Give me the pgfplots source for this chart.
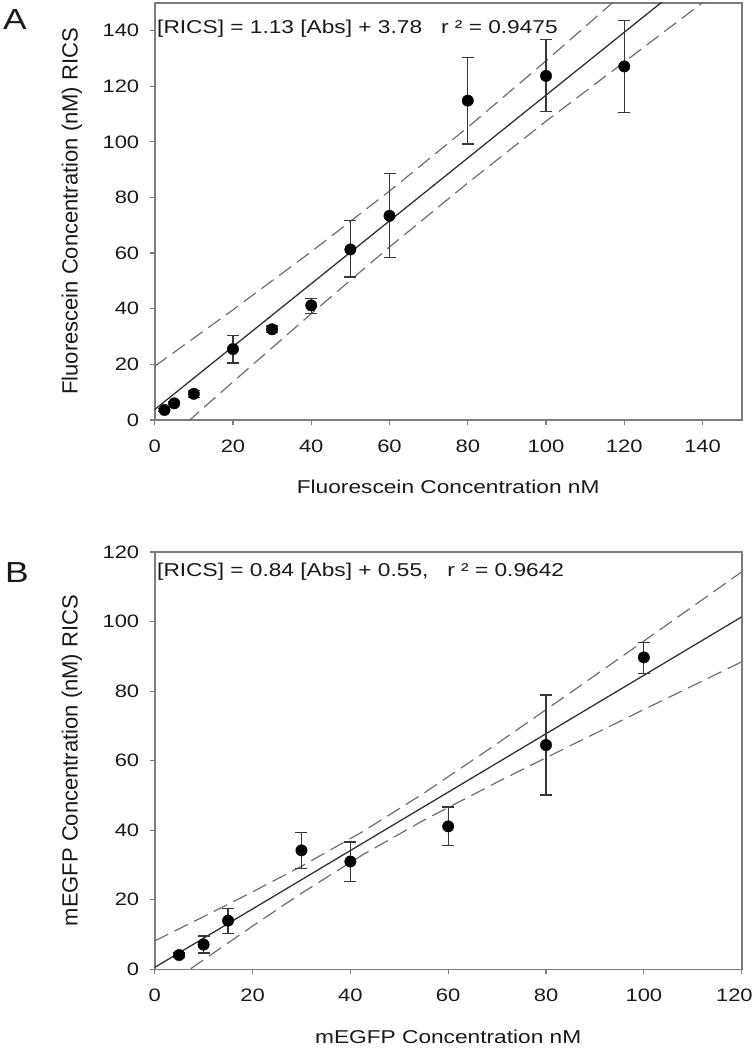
\documentclass[border=0pt]{standalone}
\usepackage{pgfplots}
\pgfplotsset{compat=1.18}
\usepackage{pgfplotstable}
\usepackage{fontspec}
\setmainfont{Liberation Sans}[FakeStretch=1.22]
\newfontfamily\ylabfont{Liberation Sans}
\definecolor{axgray}{RGB}{125,125,125}
\definecolor{fitgray}{RGB}{50,50,50}
\definecolor{bandgray}{RGB}{110,110,110}
\definecolor{errgray}{RGB}{55,55,55}
\definecolor{txt}{RGB}{25,25,25}

\pgfplotstableread{
x y ep em
2.5 3.6 0.5 0.5
5 6.0 0.5 0.5
10 9.4 1.2 1.2
20 25.5 4.9 5.0
30 32.6 1.2 1.2
40 41.2 2.6 2.8
50 61.3 10.3 9.9
60 73.4 15.2 15.1
80 114.8 15.6 15.6
100 123.7 13.0 12.8
120 127.1 16.6 16.6
}\dataA

\pgfplotstableread{
x y ep em
5 4.1 0.6 0.6
10 7.1 2.5 2.4
15 14.0 3.4 3.7
30 34.2 5.2 5.1
40 31.0 5.6 5.7
60 41.1 5.6 5.5
80 64.5 14.4 14.4
100 89.7 4.3 4.6
}\dataB

\pgfplotsset{
  panel/.style={
    width=587bp, height=417.3bp, scale only axis,
    axis line style={draw=axgray, line width=1.6bp},
    tick style={draw=axgray, line width=1.2bp},
    tick align=outside, major tick length=5bp,
    tick pos=left,
    ticklabel style={font=\fontsize{18bp}{21bp}\selectfont, text=txt},
    xticklabel style={yshift=-11bp},
    yticklabel style={xshift=-7bp},
    /pgf/number format/assume math mode=true,
    every axis x label/.style={at={(axis description cs:0.5,-0.1607)}, anchor=center,
      font=\fontsize{18.6bp}{22bp}\selectfont, text=txt},
    every axis y label/.style={at={(axis description cs:-0.1409,0.5)}, anchor=center, rotate=90,
      font=\ylabfont\fontsize{22bp}{26bp}\selectfont, text=txt},
  },
  fitline/.style={fitgray, line width=1.3bp, mark=none},
  band/.style={bandgray, line width=1.2bp, mark=none, dash pattern=on 15bp off 7bp},
  pts/.style={only marks, mark=*, mark size=5.7bp, mark options={draw=black, fill=black},
    error bars/.cd, y dir=both, y explicit,
    error bar style={errgray, line width=1.2bp},
    error mark options={rotate=90, mark size=6bp, errgray, line width=1.2bp}},
}

\begin{document}
\begin{tikzpicture}
\path[use as bounding box] (0,0) rectangle (753bp,-1050bp);

% Panel A
\begin{axis}[panel, at={(154.7bp,-420bp)}, anchor=south west,
  xmin=0, xmax=150, ymin=0, ymax=150,
  xtick={0,20,...,140}, ytick={0,20,...,140},
  xlabel={Fluorescein Concentration nM},
  ylabel={Fluorescein Concentration (nM) RICS}]
\addplot[band] coordinates {(0,19.3) (20,39.6) (40,60.5) (60,82.3) (80,105.2) (100,129.1) (120,153.7) (130,166.1)};
\addplot[band] coordinates {(0,-11.1) (20,13.7) (40,38.2) (60,62.2) (80,85.2) (100,107.4) (120,128.7) (140,150.0) (150,160.7)};
\addplot[fitline] coordinates {(0,3.78) (150,173.28)};
\addplot[pts] table[x=x, y=y, y error plus=ep, y error minus=em] {\dataA};
\node[anchor=west, inner sep=0pt, font=\fontsize{18.6bp}{22bp}\selectfont, text=txt]
  at (rel axis cs:0.004,0.937) {[RICS] = 1.13 [Abs] + 3.78\ \ \ r ² = 0.9475};
\end{axis}

% Panel B
\begin{axis}[panel, at={(154.7bp,-969.3bp)}, anchor=south west,
  xmin=0, xmax=120, ymin=0, ymax=120,
  xtick={0,20,...,120}, ytick={0,20,...,120},
  xticklabels={0,20,40,60,80,100,{\makebox[22bp][r]{120}}},
  xlabel={mEGFP Concentration nM},
  ylabel={mEGFP Concentration (nM) RICS}]
\addplot[band] coordinates {(0,8.16) (10,15.15) (20,22.27) (30,29.63) (42.5,39.57) (55,50.63) (70,64.89) (85,79.56) (100,94.40) (120,114.28)};
\addplot[band] coordinates {(0,-7.06) (10,2.75) (20,12.43) (30,21.87) (42.5,32.93) (55,42.87) (70,53.81) (85,64.34) (100,74.70) (120,88.42)};
\addplot[fitline] coordinates {(0,0.55) (120,101.35)};
\addplot[pts] table[x=x, y=y, y error plus=ep, y error minus=em] {\dataB};
\node[anchor=west, inner sep=0pt, font=\fontsize{18.6bp}{22bp}\selectfont, text=txt]
  at (rel axis cs:0.004,0.952) {[RICS] = 0.84 [Abs] + 0.55,\ \ \ r ² = 0.9642};
\end{axis}

\node[anchor=base west, inner sep=0pt, font=\fontsize{29bp}{32bp}\selectfont, text=txt] at (3bp,-29bp) {A};
\node[anchor=base west, inner sep=0pt, font=\fontsize{29bp}{32bp}\selectfont, text=txt] at (5bp,-582bp) {B};
\end{tikzpicture}
\end{document}
